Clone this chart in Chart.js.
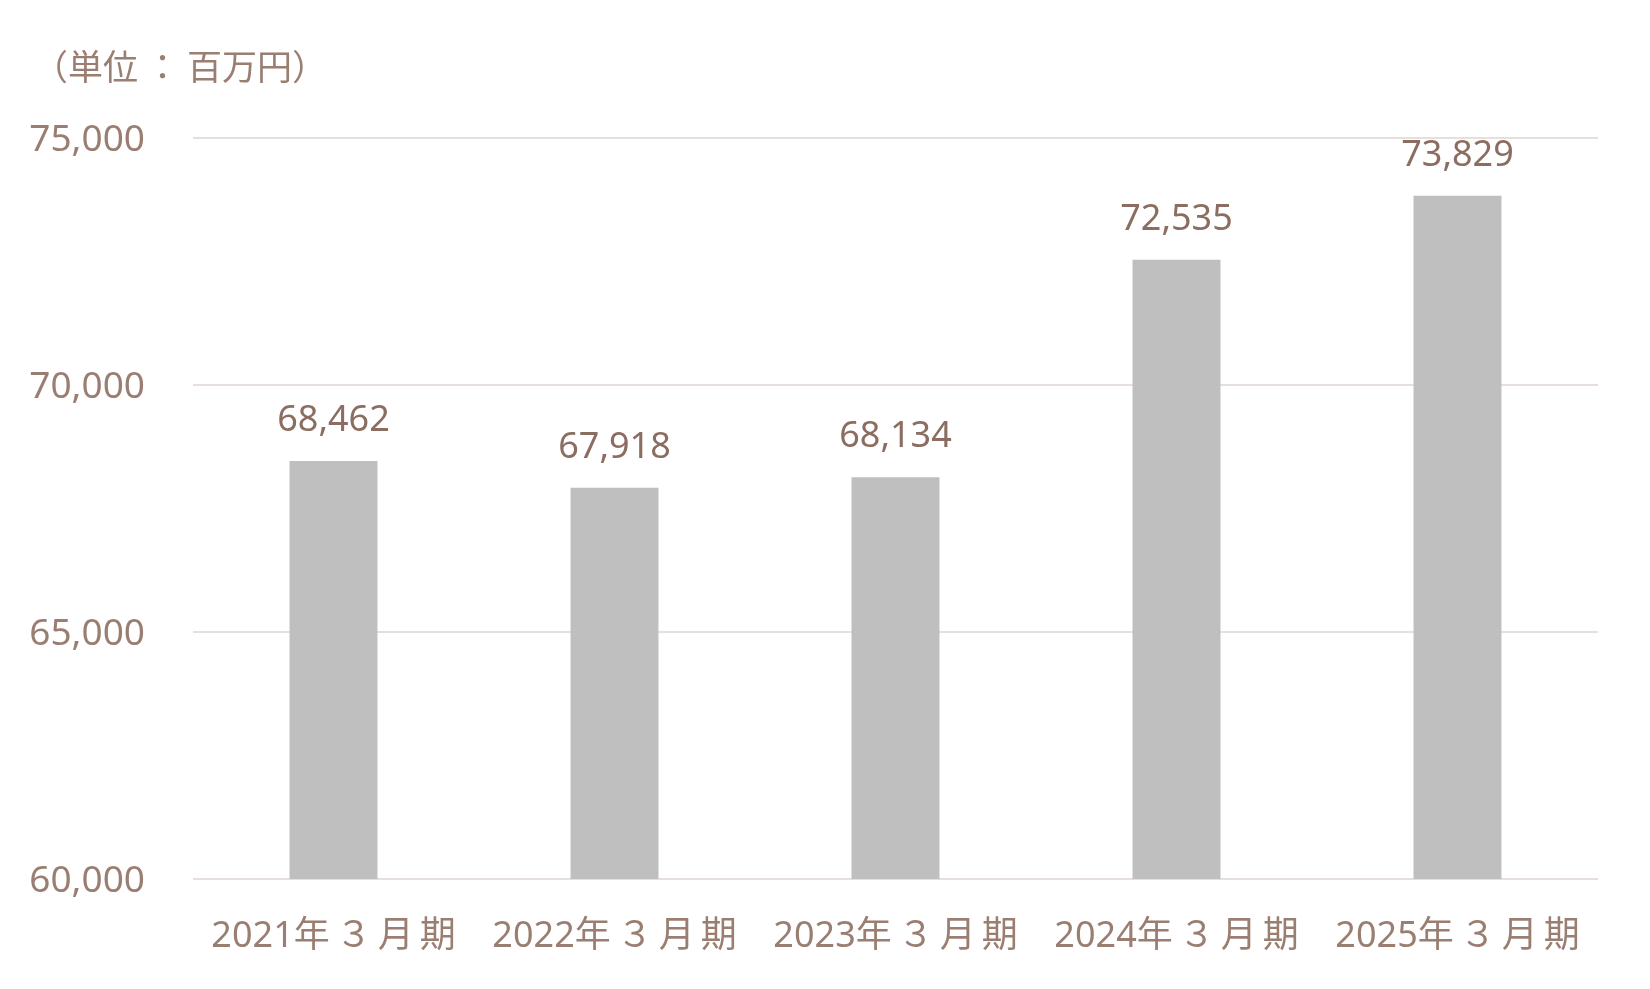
<!DOCTYPE html>
<html>
<head>
<meta charset="utf-8">
<script src="https://cdn.jsdelivr.net/npm/chart.js@4/dist/chart.umd.min.js"></script>
<style>
html,body{margin:0;padding:0;background:#fff;}
#wrap{width:1650px;height:989px;position:relative;}
</style>
</head>
<body>
<div id="wrap"><canvas id="c" width="1650" height="989"></canvas></div>
<script>
const categories = ["2021年\u2009３\u2009月\u2009期", "2022年\u2009３\u2009月\u2009期", "2023年\u2009３\u2009月\u2009期", "2024年\u2009３\u2009月\u2009期", "2025年\u2009３\u2009月\u2009期"];
const salesValues = [68462, 67918, 68134, 72535, 73829];
const yTicks = [60000, 65000, 70000, 75000];
const unitLabel = "（単位\u2009：\u2009百万円）";

const FONT = "'Noto Sans', 'Noto Sans CJK JP', sans-serif";
const TEXT = '#9b7e72';
const LABEL = '#8c6d61';

const fmt = v => v.toLocaleString('en-US');

const valueLabels = {
  id: 'valueLabels',
  afterDatasetsDraw(chart) {
    const ctx = chart.ctx;
    const meta = chart.getDatasetMeta(0);
    ctx.save();
    ctx.font = "36px " + FONT;
    ctx.fillStyle = LABEL;
    ctx.textAlign = 'center';
    ctx.textBaseline = 'alphabetic';
    meta.data.forEach((bar, i) => {
      ctx.fillText(fmt(salesValues[i]), bar.x, bar.y - 30);
    });
    ctx.restore();
  }
};

const unitTitle = {
  id: 'unitTitle',
  afterDraw(chart) {
    const ctx = chart.ctx;
    ctx.save();
    ctx.font = "35px 'Noto Sans CJK JP', sans-serif";
    ctx.fillStyle = TEXT;
    ctx.textAlign = 'left';
    ctx.textBaseline = 'middle';
    ctx.fillText(unitLabel, 33, 67);
    ctx.restore();
  }
};

new Chart(document.getElementById('c'), {
  type: 'bar',
  data: {
    labels: categories,
    datasets: [{
      data: salesValues,
      backgroundColor: '#bfbfbf',
      borderWidth: 0,
      categoryPercentage: 1,
      barPercentage: 0.313
    }]
  },
  options: {
    responsive: false,
    animation: false,
    devicePixelRatio: 1,
    layout: { padding: { top: 138, right: 52, left: 0, bottom: 0 } },
    plugins: { legend: { display: false }, tooltip: { enabled: false }, title: { display: false } },
    scales: {
      x: {
        grid: { display: false, drawTicks: false },
        border: { display: false },
        ticks: { color: TEXT, font: { family: FONT, size: 36 }, padding: 36, maxRotation: 0, autoSkip: false },
        afterFit(s) { s.height = 110; }
      },
      y: {
        min: 60000, max: 75000,
        afterBuildTicks(s) { s.ticks = yTicks.map(v => ({ value: v })); },
        grid: { color: '#e7dfde', lineWidth: 2, drawTicks: false },
        border: { display: false },
        ticks: { color: TEXT, font: { family: FONT, size: 37 }, padding: 48, labelOffset: 2, callback: v => fmt(v) },
        afterFit(s) { s.width = 193; }
      }
    }
  },
  plugins: [valueLabels, unitTitle]
});
</script>
</body>
</html>
